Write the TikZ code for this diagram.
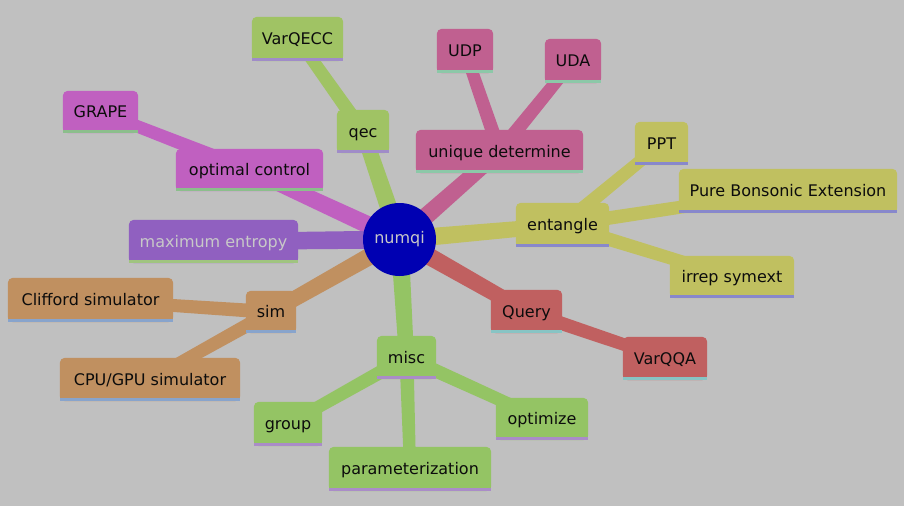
\documentclass[tikz,border=0pt]{standalone}
\usepackage{fontspec}
\setmainfont{DejaVu Sans}
\usetikzlibrary{calc}
\pgfdeclarelayer{edges}
\pgfdeclarelayer{nodebg}
\pgfsetlayers{edges,nodebg,main}

\definecolor{bgc}{RGB}{192,192,192}
\definecolor{rootc}{RGB}{0,0,178}
\definecolor{lighttxt}{RGB}{200,200,200}
\definecolor{darktxt}{RGB}{12,12,12}
\definecolor{qecc}{RGB}{160,195,100}
\definecolor{qecbar}{RGB}{160,140,200}
\definecolor{udc}{RGB}{192,96,144}
\definecolor{udbar}{RGB}{140,200,168}
\definecolor{occ}{RGB}{192,96,192}
\definecolor{ocbar}{RGB}{140,190,140}
\definecolor{mec}{RGB}{144,96,192}
\definecolor{mebar}{RGB}{160,196,128}
\definecolor{enc}{RGB}{192,192,96}
\definecolor{enbar}{RGB}{136,136,204}
\definecolor{qyc}{RGB}{192,96,96}
\definecolor{qybar}{RGB}{136,196,196}
\definecolor{simc}{RGB}{192,144,96}
\definecolor{simbar}{RGB}{136,164,204}
\definecolor{miscc}{RGB}{148,196,100}
\definecolor{miscbar}{RGB}{170,140,200}

\tikzset{
  mmtext/.style={inner sep=0pt, text height=11.7pt, text depth=0pt,
    font=\fontsize{16}{19}\selectfont},
  rootnode/.style={circle, fill=rootc, minimum size=73pt, inner sep=0pt,
    text=lighttxt, font=\fontsize{16}{19}\selectfont}
}

% name, x, y, w, h, fill, bar, textcolor, text
\newcommand\mmbox[9]{%
  \node[mmtext, minimum width=#4pt, minimum height=#5pt, text=#8] (#1) at (#2,#3) {#9};
  \begin{pgfonlayer}{nodebg}
    \fill[#6, rounded corners=5pt] (#1.south west) rectangle (#1.north east);
    \fill[#6] (#1.south west) rectangle (#1.east);
    \fill[#7] (#1.south west) rectangle ([yshift=3pt]#1.south east);
  \end{pgfonlayer}}

% from, to, half-width at from, half-width at to, colour
\newcommand\mmedge[5]{%
  \fill[#5] ($(#1)!#3!90:(#2)$) -- ($(#2)!#4!-90:(#1)$) --
    ($(#2)!#4!90:(#1)$) -- ($(#1)!#3!-90:(#2)$) -- cycle;}

\begin{document}
\begin{tikzpicture}[x=1pt,y=-1pt]
\useasboundingbox (0,0) rectangle (904,506);
\begin{pgfonlayer}{edges}
\fill[bgc] (0,0) rectangle (904,506);
\end{pgfonlayer}

\node[rootnode] (root) at (399.5,239.5) {numqi};

\mmbox{qec}{363}{131.5}{52}{43}{qecc}{qecbar}{darktxt}{qec}
\mmbox{varqecc}{297.5}{39}{91}{44}{qecc}{qecbar}{darktxt}{VarQECC}

\mmbox{ud}{499.5}{151.5}{167}{43}{udc}{udbar}{darktxt}{unique determine}
\mmbox{udp}{465}{51}{56}{44}{udc}{udbar}{darktxt}{UDP}
\mmbox{uda}{573}{61}{56}{44}{udc}{udbar}{darktxt}{UDA}

\mmbox{oc}{249.5}{170}{147}{42}{occ}{ocbar}{darktxt}{optimal control}
\mmbox{grape}{100.5}{112}{75}{42}{occ}{ocbar}{darktxt}{GRAPE}

\mmbox{me}{213.5}{241.5}{169}{43}{mec}{mebar}{lighttxt}{maximum entropy}

\mmbox{ent}{562.5}{225}{93}{44}{enc}{enbar}{darktxt}{entangle}
\mmbox{ppt}{661.5}{143.5}{53}{43}{enc}{enbar}{darktxt}{PPT}
\mmbox{pbe}{788}{191}{218}{44}{enc}{enbar}{darktxt}{Pure Bonsonic Extension}
\mmbox{irrep}{732}{277}{124}{42}{enc}{enbar}{darktxt}{irrep symext}

\mmbox{query}{526.5}{311.5}{71}{43}{qyc}{qybar}{darktxt}{Query}
\mmbox{varqqa}{665}{358.5}{84}{43}{qyc}{qybar}{darktxt}{VarQQA}

\mmbox{sim}{271}{312}{50}{42}{simc}{simbar}{darktxt}{sim}
\mmbox{cliff}{90.5}{300}{165}{44}{simc}{simbar}{darktxt}{Clifford simulator}
\mmbox{cpu}{150}{379.5}{180}{43}{simc}{simbar}{darktxt}{CPU/GPU simulator}

\mmbox{misc}{406.5}{357.5}{59}{43}{miscc}{miscbar}{darktxt}{misc}
\mmbox{group}{288}{424}{68}{44}{miscc}{miscbar}{darktxt}{group}
\mmbox{param}{410}{469}{162}{44}{miscc}{miscbar}{darktxt}{parameterization}
\mmbox{opt}{542}{419}{92}{42}{miscc}{miscbar}{darktxt}{optimize}

\begin{pgfonlayer}{edges}
\mmedge{root}{qec}{9pt}{7.5pt}{qecc}
\mmedge{qec}{varqecc}{7pt}{6pt}{qecc}
\mmedge{root}{ud}{9pt}{7.5pt}{udc}
\mmedge{ud}{udp}{7pt}{6pt}{udc}
\mmedge{ud}{uda}{7pt}{6pt}{udc}
\mmedge{root}{oc}{9pt}{7.5pt}{occ}
\mmedge{oc}{grape}{7pt}{6pt}{occ}
\mmedge{root}{me}{9pt}{8.5pt}{mec}
\mmedge{root}{ent}{9pt}{7.5pt}{enc}
\mmedge{ent}{ppt}{7pt}{6pt}{enc}
\mmedge{ent}{pbe}{7pt}{6pt}{enc}
\mmedge{ent}{irrep}{7pt}{6pt}{enc}
\mmedge{root}{query}{9pt}{7.5pt}{qyc}
\mmedge{query}{varqqa}{7pt}{6pt}{qyc}
\mmedge{root}{sim}{9pt}{7.5pt}{simc}
\mmedge{sim}{cliff}{7pt}{6pt}{simc}
\mmedge{sim}{cpu}{7pt}{6pt}{simc}
\mmedge{root}{misc}{9pt}{7.5pt}{miscc}
\mmedge{misc}{group}{7pt}{6pt}{miscc}
\mmedge{misc}{param}{7pt}{6pt}{miscc}
\mmedge{misc}{opt}{7pt}{6pt}{miscc}
\end{pgfonlayer}
\end{tikzpicture}
\end{document}
